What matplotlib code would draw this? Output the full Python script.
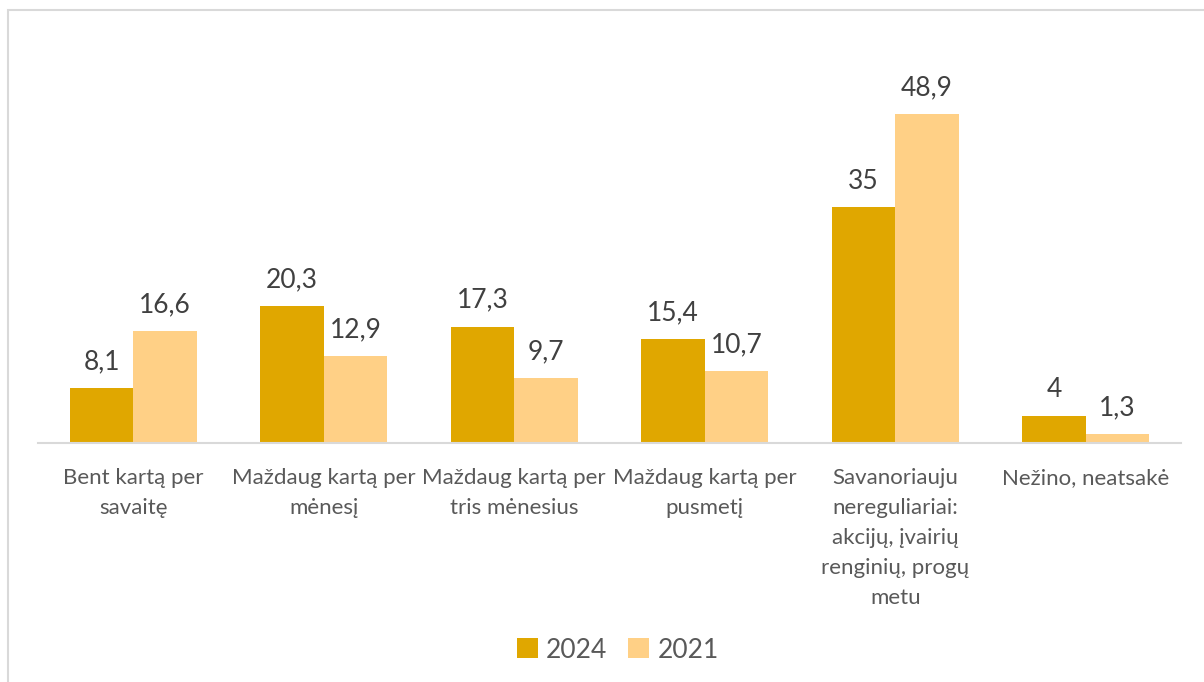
import numpy as np
import matplotlib.pyplot as plt
from matplotlib.patches import Rectangle

plt.rcParams['font.family'] = ['Lato', 'DejaVu Sans']

categories = ["Bent kartą per\nsavaitę",
              "Maždaug kartą per\nmėnesį",
              "Maždaug kartą per\ntris mėnesius",
              "Maždaug kartą per\npusmetį",
              "Savanoriauju\nnereguliariai:\nakcijų, įvairių\nrenginių, progų\nmetu",
              "Nežino, neatsakė"]
vals_2024 = [8.1, 20.3, 17.3, 15.4, 35, 4]
vals_2021 = [16.6, 12.9, 9.7, 10.7, 48.9, 1.3]
series_names = ["2024", "2021"]

c2024 = "#E0A700"
c2021 = "#FFD086"

W, H = 1204, 682
fig = plt.figure(figsize=(W / 100, H / 100), dpi=100)

# outer chart frame (cropped at right/bottom)
fig.patches.append(Rectangle((8 / W, -0.1), 1.2, 1 - 10 / H + 0.1,
                             transform=fig.transFigure, fill=False,
                             edgecolor="#D9D9D9", linewidth=1.5))

ymax = 55
ax_bottom = 443
ax_top = ax_bottom - ymax * 6.73
ax = fig.add_axes([38 / W, 1 - ax_bottom / H, (1181 - 38) / W, (ax_bottom - ax_top) / H])

x = np.arange(len(categories))
bw = 0.333
b1 = ax.bar(x - bw / 2, vals_2024, bw, color=c2024, label=series_names[0])
b2 = ax.bar(x + bw / 2, vals_2021, bw, color=c2021, label=series_names[1])


def fmt(v):
    return f"{v:g}".replace(".", ",")


for bars, vals in [(b1, vals_2024), (b2, vals_2021)]:
    for b, v in zip(bars, vals):
        ax.annotate(fmt(v), (b.get_x() + b.get_width() / 2, v),
                    xytext=(0, 10), textcoords="offset points",
                    ha="center", va="bottom", fontsize=19, color="#404040")

ax.set_xlim(-0.5, len(categories) - 0.5)
ax.set_ylim(0, ymax)
ax.set_yticks([])
ax.set_xticks(x)
ax.set_xticklabels(categories, fontsize=16, color="#595959", linespacing=1.62)
ax.tick_params(axis="x", length=0, pad=18)
for s in ["top", "right", "left"]:
    ax.spines[s].set_visible(False)
ax.spines["bottom"].set_color("#D9D9D9")
ax.spines["bottom"].set_linewidth(1.5)

fig.legend(loc="center", bbox_to_anchor=(0.513, 1 - 650 / H), ncol=2, frameon=False,
           fontsize=19, labelcolor="#595959", handlelength=0.8, handleheight=0.8,
           handletextpad=0.3, columnspacing=0.8)

fig.savefig("out.png", dpi=100)
